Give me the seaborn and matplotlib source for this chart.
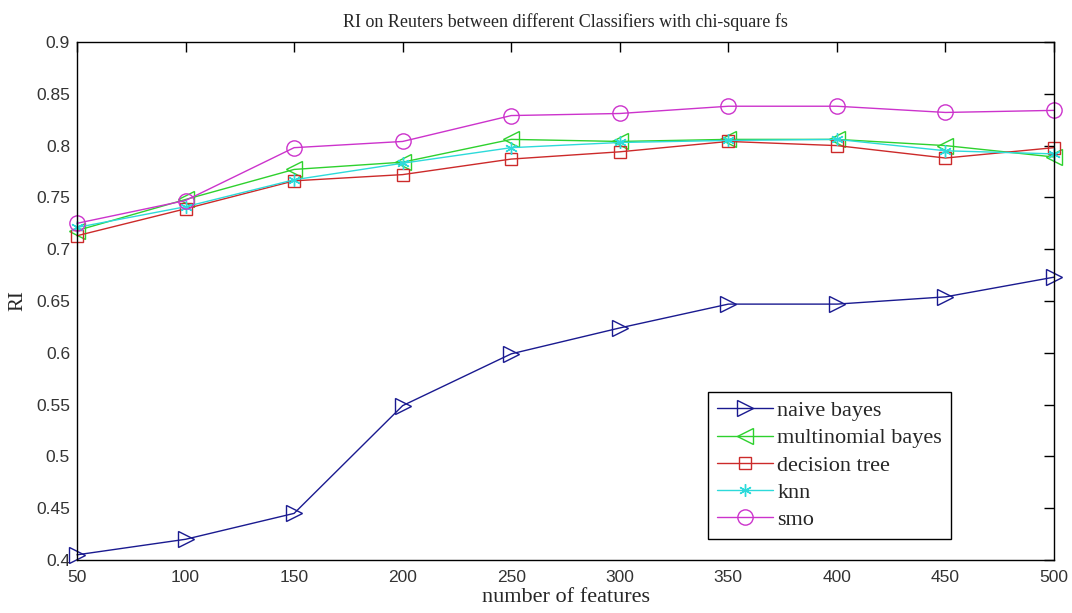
import matplotlib
matplotlib.use("Agg")
import matplotlib.pyplot as plt
import seaborn as sns
import pandas as pd

features = [50, 100, 150, 200, 250, 300, 350, 400, 450, 500]
naive_bayes = [0.405, 0.420, 0.445, 0.549, 0.599, 0.624, 0.647, 0.647, 0.654, 0.673]
multinomial_bayes = [0.718, 0.748, 0.777, 0.784, 0.806, 0.804, 0.806, 0.806, 0.800, 0.789]
decision_tree = [0.713, 0.739, 0.766, 0.772, 0.787, 0.794, 0.804, 0.800, 0.788, 0.798]
knn = [0.721, 0.741, 0.767, 0.783, 0.798, 0.803, 0.805, 0.806, 0.795, 0.792]
smo = [0.725, 0.747, 0.798, 0.804, 0.829, 0.831, 0.838, 0.838, 0.832, 0.834]

series_names = ["naive bayes", "multinomial bayes", "decision tree", "knn", "smo"]
series_values = [naive_bayes, multinomial_bayes, decision_tree, knn, smo]
colors = ["#1a1a90", "#2ed12e", "#cc2a2a", "#2ddada", "#cc33cc"]
markers = [">", "<", "s", (6, 2, 0), "o"]

x_ticks = [50, 100, 150, 200, 250, 300, 350, 400, 450, 500]
y_ticks = [0.4, 0.45, 0.5, 0.55, 0.6, 0.65, 0.7, 0.75, 0.8, 0.85, 0.9]
y_tick_labels = ["0.4", "0.45", "0.5", "0.55", "0.6", "0.65", "0.7", "0.75", "0.8", "0.85", "0.9"]

sns.set_style("white")
plt.rcParams["font.family"] = ["Liberation Sans", "DejaVu Sans"]

fig = plt.figure(figsize=(10.72, 6.13), dpi=100)
ax = fig.add_axes([77 / 1072, 1 - 560 / 613, (1054 - 77) / 1072, (560 - 42) / 613])

df = pd.DataFrame({"features": features})
for name, vals, c, m in zip(series_names, series_values, colors, markers):
    df[name] = vals
    sns.lineplot(data=df, x="features", y=name, ax=ax, color=c, marker=m,
                 markersize=11 if m not in ((6, 2, 0), "s") else 9,
                 markerfacecolor="none", markeredgecolor=c, markeredgewidth=1.0,
                 linewidth=1.0, label=name, clip_on=False)

ax.set_xlim(50, 500)
ax.set_ylim(0.4, 0.9)
ax.set_xticks(x_ticks)
ax.set_xticklabels([str(t) for t in x_ticks])
ax.set_yticks(y_ticks)
ax.set_yticklabels(y_tick_labels)
ax.tick_params(direction="in", length=7, width=1, top=True, right=True,
               labelsize=12.5, colors="black")
ax.tick_params(axis="x", pad=7)
ax.tick_params(axis="y", pad=5)
for t in ax.get_xticklabels() + ax.get_yticklabels():
    t.set_color("#333333")
for sp in ax.spines.values():
    sp.set_visible(True)
    sp.set_color("black")
    sp.set_linewidth(1.0)

serif = ["Liberation Serif", "DejaVu Serif"]
ax.set_title("RI on Reuters between different Classifiers with chi-square fs",
             fontsize=13, family=serif, pad=11)
ax.set_xlabel("number of features", fontsize=16, family=serif, labelpad=2)
ax.set_ylabel("RI", fontsize=15, family=serif, labelpad=6)

leg = ax.legend(loc="lower right", bbox_to_anchor=(951 / 1072, 1 - 539 / 613),
                bbox_transform=fig.transFigure,
                prop={"family": serif, "size": 16}, frameon=True, fancybox=False,
                edgecolor="black", framealpha=1, borderpad=0.4, labelspacing=0.3,
                handlelength=2.5, handletextpad=0.2, borderaxespad=0)
leg.get_frame().set_linewidth(1.0)

fig.savefig("out.png", dpi=100)
